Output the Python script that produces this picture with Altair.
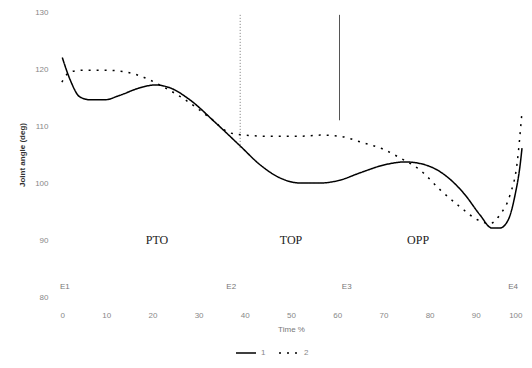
import altair as alt
import pandas as pd

# Solid curve
solid_x = [0.5, 2.2, 4.3, 6.5, 9.7, 13, 17.3, 20.6, 23.8, 28.1, 33.5, 39, 43.3, 47.6, 52, 56.3, 60.6, 65, 70.3, 74.7, 79, 83.3, 87.7, 90.9, 93.5, 95.2, 97, 98.5, 99.6, 100]
solid_y = [122, 118.1, 115.1, 114.6, 114.6, 115.4, 116.7, 117.2, 116.7, 114.6, 110.7, 106.5, 103.2, 100.9, 100, 100, 100.5, 101.8, 103.2, 103.7, 103.2, 101.4, 97.9, 94.4, 92.1, 92.1, 93.5, 97.9, 103.2, 106.1]
# Dashed curve
dash_x = [0.4, 2.2, 5.4, 9.7, 14.1, 17.3, 21.6, 27.1, 32.5, 36.8, 40, 45.5, 52, 56.3, 60.6, 65, 70.3, 73.6, 77.9, 82.3, 86.6, 90.5, 93.1, 95.2, 97.4, 98.9, 100]
dash_y = [117.7, 119.5, 119.8, 119.8, 119.5, 118.8, 117.2, 114.6, 111.4, 108.8, 108.4, 108.2, 108.2, 108.4, 108.2, 107.2, 105.8, 104.4, 102.3, 98.8, 95.8, 93.5, 92.9, 94.4, 97.9, 103.2, 112.5]

phase_labels = ["PTO", "TOP", "OPP"]
phase_x = [21, 50, 77.5]
phase_y = [90, 90, 90]

event_labels = ["E1", "E2", "E3", "E4"]
event_x = [0, 36, 61, 97]
event_y = [81.8, 81.8, 81.8, 81.8]

rule_x = [39, 60.5]
rule_top = [129.5, 129.5]
rule_bottom = [105.8, 111]
rule_kind = ["dotted", "solid"]

x_ticks = [0, 10, 20, 30, 40, 50, 60, 70, 80, 90, 100]
y_ticks = [80, 90, 100, 110, 120, 130]

df = pd.concat([
    pd.DataFrame({"t": solid_x, "v": solid_y, "s": "1"}),
    pd.DataFrame({"t": dash_x, "v": dash_y, "s": "2"}),
])

xs = alt.Scale(domain=[0, 100], nice=False)
ys = alt.Scale(domain=[80, 130], nice=False)

lines = alt.Chart(df).mark_line(interpolate="monotone", strokeWidth=1.5).encode(
    x=alt.X("t:Q", scale=xs, title="Time %",
            axis=alt.Axis(values=x_ticks, domain=False, ticks=False, grid=False,
                          labelColor="#888", labelFontSize=8, titleColor="#777",
                          titleFontSize=8, titleFontWeight="normal", labelPadding=14, titlePadding=6)),
    y=alt.Y("v:Q", scale=ys, title="Joint angle (deg)",
            axis=alt.Axis(values=y_ticks, domain=False, ticks=False, grid=False,
                          labelColor="#888", labelFontSize=8, titleColor="#333",
                          titleFontSize=8, titleFontWeight="bold", labelPadding=12, titlePadding=8)),
    strokeDash=alt.StrokeDash("s:N", scale=alt.Scale(domain=["1", "2"], range=[[1, 0], [2, 6]]),
                              legend=alt.Legend(title=None, orient="none", legendX=175, legendY=330,
                                                direction="horizontal", symbolType="stroke",
                                                symbolStrokeColor="black", symbolSize=400,
                                                labelColor="#888", labelFontSize=8)),
    color=alt.value("black"),
    detail="s:N",
)

rules_df = pd.DataFrame({"x": rule_x, "y1": rule_top, "y2": rule_bottom, "k": rule_kind})
rule_solid = alt.Chart(rules_df[rules_df.k == "solid"]).mark_rule(color="#555", strokeWidth=1).encode(
    x=alt.X("x:Q", scale=xs), y=alt.Y("y1:Q", scale=ys), y2="y2:Q")
rule_dot = alt.Chart(rules_df[rules_df.k == "dotted"]).mark_rule(color="#777", strokeWidth=1, strokeDash=[1, 2]).encode(
    x=alt.X("x:Q", scale=xs), y=alt.Y("y1:Q", scale=ys), y2="y2:Q")

phase = alt.Chart(pd.DataFrame({"x": phase_x, "y": phase_y, "l": phase_labels})).mark_text(
    font="Liberation Serif", fontSize=12, color="#222").encode(
    x=alt.X("x:Q", scale=xs), y=alt.Y("y:Q", scale=ys), text="l:N")

events = alt.Chart(pd.DataFrame({"x": event_x, "y": event_y, "l": event_labels})).mark_text(
    fontSize=8, color="#777", align="left").encode(
    x=alt.X("x:Q", scale=xs), y=alt.Y("y:Q", scale=ys), text="l:N")

chart = alt.layer(lines, rule_dot, rule_solid, phase, events).properties(
    width=462, height=285,
    autosize=alt.AutoSizeParams(type="none"),
    padding={"left": 60, "top": 12, "right": 10, "bottom": 71},
).configure(background="white").configure_view(strokeWidth=0, stroke="transparent")

chart.save("out.html", embed_options={"renderer": "svg", "actions": False})
